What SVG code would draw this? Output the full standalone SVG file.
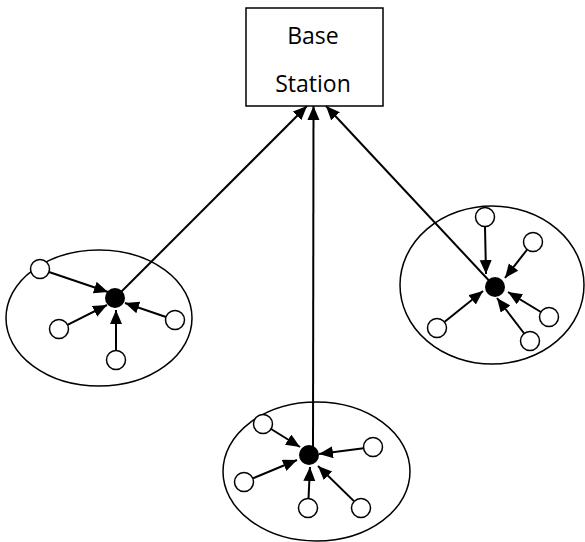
<svg xmlns="http://www.w3.org/2000/svg" width="585" height="542" viewBox="0 0 585 542">
  <style>
    .box { fill: #fff; stroke: #000; stroke-width: 1.5; }
    .cluster { fill: none; stroke: #000; stroke-width: 1.5; }
    .sensor { fill: #fff; stroke: #000; stroke-width: 1.5; }
    .head { fill: #000; stroke: none; }
    .link { stroke: #000; stroke-width: 2; fill: none; marker-end: url(#arrow); }
    .label { font-family: "Open Sans", "Liberation Sans", sans-serif; font-size: 23px; fill: #000; text-anchor: middle; }
  </style>
  <defs>
    <marker id="arrow" markerUnits="userSpaceOnUse" markerWidth="15" markerHeight="13" refX="14" refY="6" orient="auto">
      <path d="M0,0 L14,6 L0,12 z" fill="#000"/>
    </marker>
  </defs>

  <!-- cluster boundaries -->
  <g id="cluster-left"><ellipse class="cluster" cx="99" cy="318" rx="93" ry="68"/></g>
  <g id="cluster-right"><ellipse class="cluster" cx="492" cy="285" rx="92" ry="79"/></g>
  <g id="cluster-bottom"><ellipse class="cluster" cx="316.5" cy="471.5" rx="93.5" ry="69.5"/></g>

  <!-- sink node -->
  <g id="base-station">
    <rect class="box" x="246" y="8" width="137" height="98"/>
    <text class="label" x="313" y="44">Base</text>
    <text class="label" x="313" y="92">Station</text>
  </g>

  <!-- links -->
  <g id="connectors">
    <!-- cluster heads to base station -->
    <line class="link" x1="115" y1="298" x2="307" y2="106"/>
    <line class="link" x1="313" y1="455" x2="313.5" y2="106"/>
    <line class="link" x1="495" y1="287" x2="326" y2="106"/>

    <!-- left cluster members to head -->
    <line class="link" x1="49" y1="272" x2="108" y2="292"/>
    <line class="link" x1="67.5" y1="324.8" x2="107" y2="305"/>
    <line class="link" x1="116" y1="350.5" x2="116" y2="310"/>
    <line class="link" x1="166" y1="317" x2="125" y2="303"/>

    <!-- right cluster members to head -->
    <line class="link" x1="485" y1="226.5" x2="486" y2="274"/>
    <line class="link" x1="527.2" y1="249.5" x2="505" y2="278"/>
    <line class="link" x1="540.9" y1="312" x2="508" y2="292"/>
    <line class="link" x1="524.2" y1="333.5" x2="497" y2="298"/>
    <line class="link" x1="444.4" y1="322" x2="483" y2="291"/>

    <!-- bottom cluster members to head -->
    <line class="link" x1="271.1" y1="429" x2="300" y2="447"/>
    <line class="link" x1="363.6" y1="448.2" x2="319" y2="454"/>
    <line class="link" x1="252.8" y1="478.4" x2="297" y2="460"/>
    <line class="link" x1="308.5" y1="498.5" x2="310" y2="467"/>
    <line class="link" x1="354.2" y1="501.4" x2="318" y2="466"/>
  </g>

  <!-- left cluster nodes -->
  <g id="left-head"><circle class="head" cx="115" cy="298" r="10"/></g>
  <g id="left-n1"><circle class="sensor" cx="40" cy="269" r="9.5"/></g>
  <g id="left-n2"><circle class="sensor" cx="59" cy="329" r="9.5"/></g>
  <g id="left-n3"><circle class="sensor" cx="116" cy="360" r="9.5"/></g>
  <g id="left-n4"><circle class="sensor" cx="175" cy="320" r="9.5"/></g>

  <!-- right cluster nodes -->
  <g id="right-head"><circle class="head" cx="495" cy="287" r="10"/></g>
  <g id="right-n1"><circle class="sensor" cx="485" cy="217" r="9.5"/></g>
  <g id="right-n2"><circle class="sensor" cx="533" cy="242" r="9.5"/></g>
  <g id="right-n3"><circle class="sensor" cx="549" cy="317" r="9.5"/></g>
  <g id="right-n4"><circle class="sensor" cx="530" cy="341" r="9.5"/></g>
  <g id="right-n5"><circle class="sensor" cx="437" cy="328" r="9.5"/></g>

  <!-- bottom cluster nodes -->
  <g id="bottom-head"><circle class="head" cx="309" cy="455" r="10"/></g>
  <g id="bottom-n1"><circle class="sensor" cx="263" cy="424" r="9.5"/></g>
  <g id="bottom-n2"><circle class="sensor" cx="373" cy="447" r="9.5"/></g>
  <g id="bottom-n3"><circle class="sensor" cx="244" cy="482" r="9.5"/></g>
  <g id="bottom-n4"><circle class="sensor" cx="308" cy="508" r="9.5"/></g>
  <g id="bottom-n5"><circle class="sensor" cx="361" cy="508" r="9.5"/></g>
</svg>
